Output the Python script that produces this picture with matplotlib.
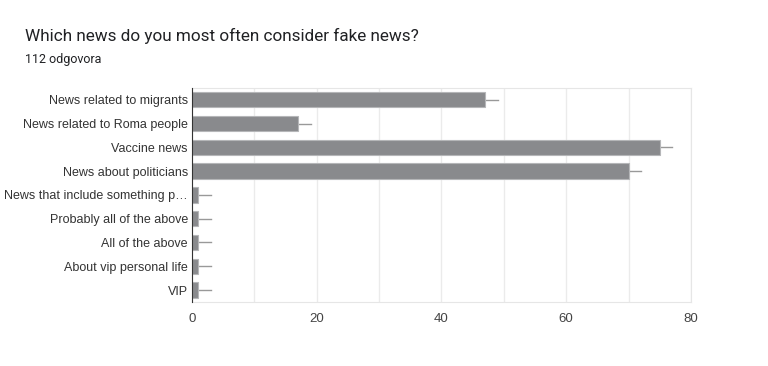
import numpy as np
import matplotlib
matplotlib.use("Agg")
import matplotlib.pyplot as plt
from matplotlib.ticker import MultipleLocator

labels = [
    "News related to migrants",
    "News related to Roma people",
    "Vaccine news",
    "News about politicians",
    "News that include something p\u2026",
    "Probably all of the above",
    "All of the above",
    "About vip personal life",
    "VIP",
]
counts = [47, 17, 75, 70, 1, 1, 1, 1, 1]
title = "Which news do you most often consider fake news?"
subtitle = "112 odgovora"

plt.rcParams['font.family'] = ['Liberation Sans', 'DejaVu Sans']

fig = plt.figure(figsize=(7.68, 3.66), dpi=100)
ax = fig.add_axes([0.25, 0.175, 0.6497, 0.585])

y = np.arange(len(labels))
ax.barh(y, counts, height=0.64, color='#898a8d', edgecolor='#b5b6b8', linewidth=0.8, zorder=3)
# short line to the right of each bar, as in the Forms chart
for yi, c in zip(y, counts):
    ax.plot([c, c + 2], [yi, yi], color='#999999', linewidth=1, zorder=2)

ax.set_ylim(len(labels) - 0.5, -0.5)
ax.set_xlim(0, 80)
ax.set_yticks(y)
ax.set_yticklabels(labels, fontsize=9, color='#333333')
ax.xaxis.set_major_locator(MultipleLocator(20))
ax.xaxis.set_minor_locator(MultipleLocator(10))
ax.tick_params(axis='x', which='both', length=0, labelsize=9.5, labelcolor='#444444', pad=8)
ax.tick_params(axis='y', length=0, pad=3)
ax.grid(axis='x', which='both', color='#ebebeb', linewidth=1, zorder=0)

for s in ['top', 'right', 'bottom']:
    ax.spines[s].set_color('#e6e6e6')
ax.spines['left'].set_color('#333333')
ax.spines['left'].set_zorder(4)

fig.text(25 / 768, 1 - 36 / 366, title, fontsize=12.3, color='#202124',
         family=['Roboto', 'DejaVu Sans'], va='center')
fig.text(25 / 768, 1 - 59 / 366, subtitle, fontsize=9, color='#202124',
         family=['Roboto', 'DejaVu Sans'], va='center')

fig.savefig('out.png', dpi=100)
